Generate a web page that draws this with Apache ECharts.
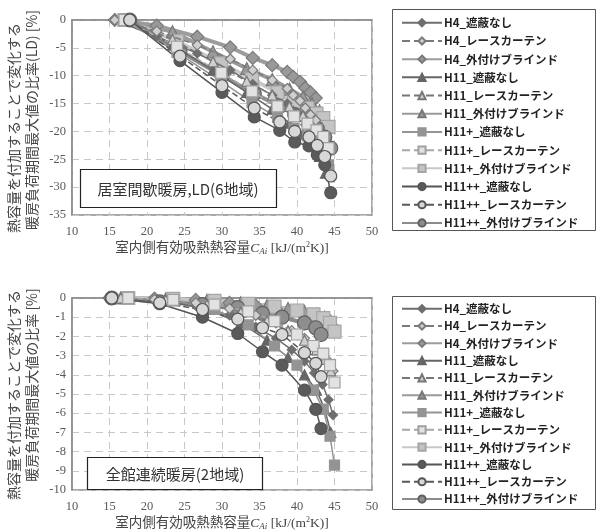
<!DOCTYPE html>
<html>
<head>
<meta charset="utf-8">
<script src="https://cdn.jsdelivr.net/npm/echarts@6/dist/echarts.min.js"></script>
<style>
html, body { margin: 0; padding: 0; background: #fff; }
#main { width: 597px; height: 532px; }
</style>
</head>
<body>
<div id="main"></div>
<script>
// series names (legend order)
const names = [
  'H4_遮蔽なし', 'H4_レースカーテン', 'H4_外付けブラインド',
  'H11_遮蔽なし', 'H11_レースカーテン', 'H11_外付けブラインド',
  'H11+_遮蔽なし', 'H11+_レースカーテン', 'H11+_外付けブラインド',
  'H11++_遮蔽なし', 'H11++_レースカーテン', 'H11++_外付けブラインド'
]

// ---- upper chart: 居室間歇暖房,LD(6地域)
const topXH4 = [15.7, 21.3, 26.7, 31.1, 34.1, 36.7, 38.7, 39.5, 40.4, 41.1, 41.8, 42.5]
const topH4None = [0, -3, -6, -9, -11.5, -13.5, -15, -16.3, -17.5, -18.8, -20, -21.5]
const topH4Lace = [0, -2, -4.5, -7, -9, -10.8, -12.3, -13.5, -14.5, -15.8, -17, -18]
const topH4Blind = [0, -1, -3, -4.9, -6.8, -8.1, -9.3, -10.2, -11.1, -12.2, -13, -14]
const topXH11 = [17, 23.4, 28.8, 33.3, 36.7, 39, 40.8, 42, 43, 43.8]
const topH11None = [0, -4.5, -9, -13, -16, -18.5, -20.5, -22.3, -24.5, -27.5]
const topH11Lace = [0, -3.5, -7.5, -11, -13.5, -15.5, -17.2, -18.8, -20.5, -23]
const topH11Blind = [0, -2.1, -5.7, -8.7, -10.7, -12.4, -13.8, -15, -16.3, -18]
const topXH11p = [17, 24, 29.9, 34, 37.4, 39.6, 41.4, 42.6, 43.5, 44.2]
const topH11pNone = [0, -5.8, -11, -14.8, -17.5, -19.5, -20.8, -22, -23.5, -26]
const topH11pLace = [0, -4.8, -9.5, -12.8, -15.5, -17.3, -18.6, -19.8, -21, -23]
const topH11pBlind = [0, -3.8, -7.8, -10.6, -13, -14.8, -15.8, -16.8, -17.6, -19.2]
const topXH11pp = [17.7, 24.4, 30, 34.3, 37.7, 39.7, 41.6, 42.7, 43.7, 44.5]
const topH11ppNone = [0, -7.3, -13, -17.4, -19.8, -21.9, -22.6, -24.2, -26, -31]
const topH11ppLace = [0, -6.5, -11.8, -15.8, -18.3, -20, -21, -22.5, -24.5, -28]
const topH11ppBlind = [0, -5.6, -10, -13.2, -15.5, -17, -18, -19.5, -21, -23]

// ---- lower chart: 全館連続暖房(2地域)
const botXH4 = [15, 21, 26.5, 31, 34.5, 37.2, 39.3, 41, 42.3, 43.4, 44.2, 44.8]
const botH4None = [0, -0.1, -0.4, -0.9, -1.5, -2.1, -2.7, -3.3, -3.9, -4.5, -5.3, -6.1]
const botH4Lace = [0, -0.07, -0.25, -0.55, -0.9, -1.3, -1.7, -2.1, -2.5, -2.9, -3.3, -3.8]
const botH4Blind = [0, -0.03, -0.1, -0.25, -0.4, -0.55, -0.7, -0.85, -1, -1.15, -1.3, -1.5]
const botXH11 = [16.5, 22.5, 28, 32.5, 36, 38.8, 41, 42.6, 43.7, 44.5]
const botH11None = [0, -0.15, -0.6, -1.3, -2.2, -3.1, -4, -4.8, -5.8, -7]
const botH11Lace = [0, -0.1, -0.35, -0.75, -1.2, -1.7, -2.2, -2.7, -3.2, -3.8]
const botH11Blind = [0, -0.04, -0.12, -0.25, -0.4, -0.55, -0.7, -0.85, -1, -1.2]
const botXH11p = [17.5, 23.5, 29, 33.5, 37, 40, 42.2, 43.5, 44.4, 45]
const botH11pNone = [0, -0.15, -0.6, -1.4, -2.5, -3.5, -4.8, -5.8, -7.2, -8.7]
const botH11pLace = [0, -0.1, -0.35, -0.7, -1.2, -1.9, -2.5, -2.9, -3.5, -4.4]
const botH11pBlind = [0, -0.05, -0.15, -0.3, -0.45, -0.65, -0.85, -1.05, -1.3, -1.75]
const botXH11pp = [15.3, 21.7, 27.4, 32.1, 35.4, 38, 41, 42.5, 43.2]
const botH11ppNone = [0, -0.3, -1, -1.85, -2.8, -3.5, -4.8, -5.8, -6.8]
const botH11ppLace = [0, -0.25, -0.6, -1.1, -1.55, -1.9, -2.85, -3.4, -4.1]
const botH11ppBlind = [0, -0.2, -0.35, -0.5, -0.8, -1, -1.3, -1.55, -1.9]

const pair = (xs, ys) => ys.map((v, i) => [xs[i], v])

// style per series (same order as names)
const styles = [
  { sym: 'diamond', size: 9, line: '#6e6e6e', w: 1.5, type: 'solid', fill: '#6e6e6e', bd: '#6e6e6e' },
  { sym: 'diamond', size: 10, line: '#7a7a7a', w: 1.5, type: 'dashed', fill: '#d0d0d0', bd: '#7a7a7a' },
  { sym: 'diamond', size: 13, line: '#9c9c9c', w: 4, type: 'solid', fill: '#999999', bd: '#7a7a7a' },
  { sym: 'triangle', size: 10, line: '#666666', w: 1.5, type: 'solid', fill: '#666666', bd: '#666666' },
  { sym: 'triangle', size: 10, line: '#777777', w: 1.5, type: 'dashed', fill: '#d0d0d0', bd: '#777777' },
  { sym: 'triangle', size: 12, line: '#9a9a9a', w: 4, type: 'solid', fill: '#9a9a9a', bd: '#777777' },
  { sym: 'rect', size: 10, line: '#949494', w: 1.5, type: 'solid', fill: '#949494', bd: '#949494' },
  { sym: 'rect', size: 11, line: '#a8a8a8', w: 1.5, type: 'dashed', fill: '#e2e2e2', bd: '#a0a0a0' },
  { sym: 'rect', size: 13, line: '#c8c8c8', w: 4, type: 'solid', fill: '#c4c4c4', bd: '#a6a6a6' },
  { sym: 'circle', size: 12, line: '#555555', w: 1.5, type: 'solid', fill: '#5a5a5a', bd: '#555555' },
  { sym: 'circle', size: 12, line: '#5a5a5a', w: 1.5, type: 'dashed', fill: '#d8d8d8', bd: '#555555' },
  { sym: 'circle', size: 14, line: '#8c8c8c', w: 4, type: 'solid', fill: '#8e8e8e', bd: '#606060' }
]

const topData = [
  pair(topXH4, topH4None), pair(topXH4, topH4Lace), pair(topXH4, topH4Blind),
  pair(topXH11, topH11None), pair(topXH11, topH11Lace), pair(topXH11, topH11Blind),
  pair(topXH11p, topH11pNone), pair(topXH11p, topH11pLace), pair(topXH11p, topH11pBlind),
  pair(topXH11pp, topH11ppNone), pair(topXH11pp, topH11ppLace), pair(topXH11pp, topH11ppBlind)
]
const botData = [
  pair(botXH4, botH4None), pair(botXH4, botH4Lace), pair(botXH4, botH4Blind),
  pair(botXH11, botH11None), pair(botXH11, botH11Lace), pair(botXH11, botH11Blind),
  pair(botXH11p, botH11pNone), pair(botXH11p, botH11pLace), pair(botXH11p, botH11pBlind),
  pair(botXH11pp, botH11ppNone), pair(botXH11pp, botH11ppLace), pair(botXH11pp, botH11ppBlind)
]

const serif = '"Liberation Serif", "Noto Sans CJK JP", serif'
const cjk = '"Noto Sans CJK JP", sans-serif'

const makeSeries = (data, gi) => data.map((d, i) => {
  const s = styles[i]
  return {
    name: names[i],
    type: 'line',
    xAxisIndex: gi,
    yAxisIndex: gi,
    data: d,
    symbol: s.sym,
    symbolSize: s.size,
    lineStyle: { color: s.line, width: s.w, type: s.type },
    itemStyle: { color: s.fill, borderColor: s.bd, borderWidth: 1.2 },
    z: 2 + (i % 3 === 2 ? 0 : 1),
    animation: false
  }
})

const xAxisBase = (gi) => ({
  type: 'value', gridIndex: gi, min: 10, max: 50, interval: 5,
  axisLine: { show: true, lineStyle: { color: '#8c8c8c', width: 1.5 } },
  axisTick: { show: false },
  axisLabel: { color: '#595959', fontFamily: serif, fontSize: 12.5, margin: 10 },
  splitLine: { show: true, lineStyle: { color: '#c8c8c8', type: [7, 5] } },
  name: '{a|室内側有効吸熱熱容量}{c|C}{s|Ai}{a| [kJ/(m}{p|2}{a|K)]}',
  nameLocation: 'middle', nameGap: 26,
  nameTextStyle: {
    rich: {
      a: { fontFamily: serif, fontSize: 13.5, color: '#444' },
      c: { fontFamily: serif, fontSize: 13.5, fontStyle: 'italic', color: '#444' },
      s: { fontFamily: serif, fontSize: 9, fontStyle: 'italic', color: '#444', verticalAlign: 'bottom', padding: [6, 0, 0, 0] },
      p: { fontFamily: serif, fontSize: 8, color: '#444', verticalAlign: 'top', padding: [0, 0, 6, 0] }
    }
  }
})
const yAxisBase = (gi, min, step) => ({
  type: 'value', gridIndex: gi, min: min, max: 0, interval: step,
  axisLine: { show: true, onZero: false, lineStyle: { color: '#8c8c8c', width: 1.5 } },
  axisTick: { show: false },
  axisLabel: { color: '#595959', fontFamily: serif, fontSize: 12.5, margin: 6 },
  splitLine: { show: true, lineStyle: { color: '#c8c8c8', type: [7, 5] } }
})

const legendBase = (top, gap) => ({
  data: names, orient: 'vertical', left: 396, top: top,
  itemWidth: 40, itemHeight: 9, itemGap: gap,
  selectedMode: false,
  textStyle: { fontFamily: cjk, fontWeight: 'bold', fontSize: 11.5, color: '#222', padding: [0, 0, 0, -3] }
})

const chart = echarts.init(document.getElementById('main'), null, { renderer: 'canvas' })
chart.setOption({
  backgroundColor: '#fff',
  animation: false,
  grid: [
    { left: 72, top: 20, width: 300, height: 195, show: true, borderColor: '#8c8c8c', borderWidth: 1.5 },
    { left: 72, top: 298, width: 300, height: 194, show: true, borderColor: '#8c8c8c', borderWidth: 1.5 }
  ],
  xAxis: [xAxisBase(0), xAxisBase(1)],
  yAxis: [yAxisBase(0, -35, 5), yAxisBase(1, -10, 1)],
  legend: [legendBase(12, 6.7), legendBase(298, 5.8)],
  series: makeSeries(topData, 0).concat(makeSeries(botData, 1)),
  graphic: [
    // legend frames
    { type: 'rect', shape: { x: 392.5, y: 9.5, width: 203, height: 221 }, style: { fill: 'none', stroke: '#555', lineWidth: 1 }, silent: true },
    { type: 'rect', shape: { x: 392.5, y: 296.5, width: 203, height: 213 }, style: { fill: 'none', stroke: '#555', lineWidth: 1 }, silent: true },
    // label boxes
    { type: 'rect', shape: { x: 80.5, y: 169.5, width: 196, height: 38 }, style: { fill: '#fff', stroke: '#222', lineWidth: 1.2 }, z: 50 },
    { type: 'text', x: 178, y: 189, z: 51, style: { text: '居室間歇暖房,LD(6地域)', font: '15px ' + cjk, fill: '#333', textAlign: 'center', textVerticalAlign: 'middle' } },
    { type: 'rect', shape: { x: 87.5, y: 457.5, width: 175, height: 32 }, style: { fill: '#fff', stroke: '#222', lineWidth: 1.2 }, z: 50 },
    { type: 'text', x: 175, y: 474, z: 51, style: { text: '全館連続暖房(2地域)', font: '15px ' + cjk, fill: '#333', textAlign: 'center', textVerticalAlign: 'middle' } },
    // y-axis titles
    { type: 'text', x: 14, y: 128, rotation: Math.PI / 2, style: { text: '熱容量を付加することで変化する', font: '14px ' + cjk, fill: '#444', textAlign: 'center', textVerticalAlign: 'middle' } },
    { type: 'text', x: 32, y: 120, rotation: Math.PI / 2, style: { text: '暖房負荷期間最大値の比率(LD) [%]', font: '14px ' + cjk, fill: '#444', textAlign: 'center', textVerticalAlign: 'middle' } },
    { type: 'text', x: 14, y: 395, rotation: Math.PI / 2, style: { text: '熱容量を付加することで変化する', font: '14px ' + cjk, fill: '#444', textAlign: 'center', textVerticalAlign: 'middle' } },
    { type: 'text', x: 32, y: 385, rotation: Math.PI / 2, style: { text: '暖房負荷期間最大値の比率 [%]', font: '14px ' + cjk, fill: '#444', textAlign: 'center', textVerticalAlign: 'middle' } }
  ]
})
</script>
</body>
</html>
